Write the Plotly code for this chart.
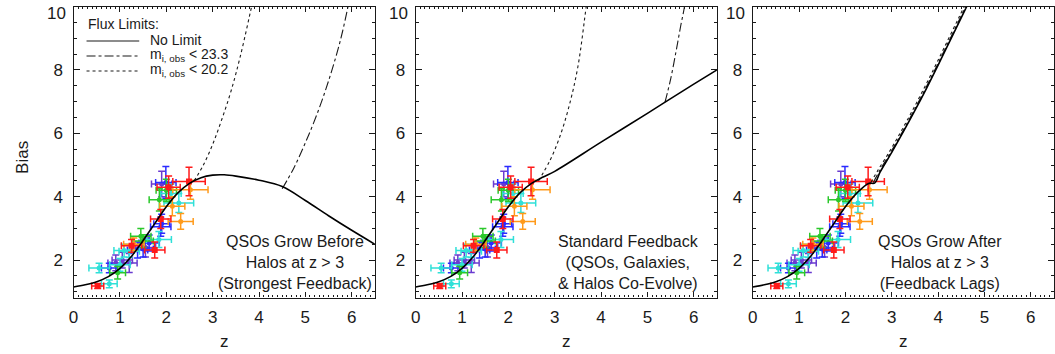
import plotly.graph_objects as go

W, H = 1055, 354

# ---------------- curves ----------------
z_base = [0.0, 0.25, 0.5, 0.75, 1.0, 1.25, 1.5, 1.75, 2.0, 2.25, 2.5]
b_base = [1.15, 1.22, 1.32, 1.48, 1.74, 2.12, 2.62, 3.15, 3.68, 4.12, 4.42]

# panel 1: QSOs grow before halos
z1_tail = [2.75, 3.0, 3.25, 3.5, 4.0, 4.5, 5.0, 5.5, 6.0, 6.5]
b1_tail = [4.6, 4.68, 4.69, 4.65, 4.52, 4.32, 3.88, 3.4, 2.94, 2.5]
z1_dot = [2.6, 2.8, 3.0, 3.2, 3.4, 3.6, 3.84, 3.9]
b1_dot = [4.5, 5.0, 5.65, 6.45, 7.35, 8.45, 10.0, 10.4]
z1_dd = [4.5, 4.75, 5.0, 5.25, 5.5, 5.75, 5.92, 5.97]
b1_dd = [4.25, 4.9, 5.7, 6.6, 7.65, 8.9, 10.0, 10.4]

# panel 2: standard feedback
z2_tail = [2.75, 3.0, 4.0, 5.0, 6.0, 6.5]
b2_tail = [4.62, 4.8, 5.72, 6.63, 7.55, 8.0]
z2_dot = [2.65, 2.9, 3.1, 3.3, 3.5, 3.68, 3.72]
b2_dot = [4.5, 5.15, 5.85, 6.8, 8.1, 10.0, 10.4]
z2_dd = [5.38, 5.5, 5.62, 5.72, 5.8, 5.83]
b2_dd = [6.98, 7.7, 8.6, 9.4, 10.0, 10.4]

# panel 3: QSOs grow after halos
z3_tail = [2.63, 2.75, 3.0, 3.25, 3.5, 3.75, 4.0, 4.25, 4.5, 4.7]
b3_tail = [4.43, 4.78, 5.4, 6.05, 6.72, 7.42, 8.15, 8.9, 9.65, 10.25]
z3_dot = [2.55, 2.7, 2.95, 3.2, 3.45, 3.7, 3.95, 4.2, 4.45, 4.65]
b3_dot = [4.45, 4.83, 5.42, 6.06, 6.73, 7.43, 8.16, 8.91, 9.66, 10.26]
z3_dd = [2.6, 2.73, 2.98, 3.23, 3.48, 3.73, 3.98, 4.23, 4.48, 4.68]
b3_dd = [4.44, 4.8, 5.41, 6.05, 6.72, 7.42, 8.15, 8.9, 9.65, 10.25]

# ---------------- observed clustering points ----------------
red_z = [0.52, 1.25, 1.75, 1.88, 2.49, 2.05]
red_b = [1.18, 2.45, 2.32, 3.3, 4.48, 4.3]
red_ez = [0.13, 0.22, 0.22, 0.22, 0.35, 0.25]
red_eb = [0.08, 0.2, 0.25, 0.3, 0.45, 0.35]

orange_z = [2.52, 2.31, 2.13, 1.3]
orange_b = [4.22, 3.22, 3.7, 2.5]
orange_ez = [0.38, 0.27, 0.27, 0.22]
orange_eb = [0.3, 0.25, 0.3, 0.2]

green_z = [0.95, 1.45, 1.85, 1.5, 2.0]
green_b = [1.6, 2.75, 3.9, 2.6, 4.2]
green_ez = [0.17, 0.22, 0.22, 0.22, 0.22]
green_eb = [0.2, 0.25, 0.35, 0.2, 0.35]

cyan_z = [0.77, 0.55, 1.09, 1.2, 1.84, 2.27, 1.0, 2.1]
cyan_b = [1.25, 1.75, 2.3, 2.28, 2.65, 3.8, 1.85, 4.1]
cyan_ez = [0.17, 0.22, 0.22, 0.22, 0.27, 0.32, 0.22, 0.22]
cyan_eb = [0.12, 0.15, 0.2, 0.2, 0.25, 0.3, 0.2, 0.3]

blue_z = [0.77, 1.38, 1.63, 1.88, 1.99, 1.9, 1.5]
blue_b = [1.75, 2.32, 2.54, 3.05, 4.45, 3.15, 2.35]
blue_ez = [0.17, 0.22, 0.22, 0.22, 0.22, 0.17, 0.22]
blue_eb = [0.15, 0.25, 0.25, 0.3, 0.5, 0.3, 0.25]

purple_z = [0.91, 1.2, 1.9, 1.55, 1.05]
purple_b = [1.91, 1.91, 4.4, 2.4, 2.0]
purple_ez = [0.17, 0.17, 0.22, 0.22, 0.22]
purple_eb = [0.25, 0.3, 0.4, 0.3, 0.25]

groups = [
    ("#6a3bd0", purple_z, purple_b, purple_ez, purple_eb, "circle"),
    ("#2b2bff", blue_z, blue_b, blue_ez, blue_eb, "circle"),
    ("#2fe0d8", cyan_z, cyan_b, cyan_ez, cyan_eb, "circle"),
    ("#2bc82b", green_z, green_b, green_ez, green_eb, "circle"),
    ("#ff9a1a", orange_z, orange_b, orange_ez, orange_eb, "circle"),
    ("#ff1a1a", red_z, red_b, red_ez, red_eb, "square"),
]

panel_text = [
    "QSOs Grow Before<br>Halos at z > 3<br>(Strongest Feedback)",
    "Standard Feedback<br>(QSOs, Galaxies,<br>& Halos Co-Evolve)",
    "QSOs Grow After<br>Halos at z > 3<br>(Feedback Lags)",
]

# ---------------- layout geometry (pixels) ----------------
panels_px = [(69, 372), (413, 716), (752, 1055)]
y_top_px, y_bot_px = 6.5, 297.5
text_cx = [292, 627, 940]

FONT = "Liberation Sans, Arial, Helvetica, sans-serif"
INK = "#1a1a1a"

fig = go.Figure()

solid = [
    (z_base + z1_tail, b_base + b1_tail),
    (z_base + z2_tail, b_base + b2_tail),
    (z_base + z3_tail, b_base + b3_tail),
]
dots = [(z1_dot, b1_dot), (z2_dot, b2_dot), (z3_dot, b3_dot)]
dds = [(z1_dd, b1_dd), (z2_dd, b2_dd), (z3_dd, b3_dd)]

for i in range(3):
    xa = "x" if i == 0 else f"x{i+1}"
    ya = "y" if i == 0 else f"y{i+1}"
    for col, zz, bb, ez, eb, sym in groups:
        fig.add_trace(go.Scatter(
            x=zz, y=bb, mode="markers", xaxis=xa, yaxis=ya,
            marker=dict(color=col, size=5 if sym == "circle" else 6, symbol=sym),
            error_x=dict(type="data", array=ez, color=col, thickness=1.5, width=3.5),
            error_y=dict(type="data", array=eb, color=col, thickness=1.5, width=3.5),
            showlegend=False, hoverinfo="skip"))
    fig.add_trace(go.Scatter(x=dots[i][0], y=dots[i][1], mode="lines", xaxis=xa, yaxis=ya,
                             line=dict(color=INK, width=1.1, dash="dot", shape="spline"),
                             showlegend=False))
    fig.add_trace(go.Scatter(x=dds[i][0], y=dds[i][1], mode="lines", xaxis=xa, yaxis=ya,
                             line=dict(color=INK, width=1.1, dash="dashdot", shape="spline"),
                             showlegend=False))
    fig.add_trace(go.Scatter(x=solid[i][0], y=solid[i][1], mode="lines", xaxis=xa, yaxis=ya,
                             line=dict(color="black", width=1.6, shape="spline"),
                             showlegend=False))

ydom = [1 - y_bot_px / H, 1 - y_top_px / H]
annotations = []
shapes = []
for i, (x0, x1) in enumerate(panels_px):
    sfx = "" if i == 0 else str(i + 1)
    xaxis = dict(
        domain=[x0 / W, x1 / W], range=[0, 6.5], anchor="y" + sfx,
        tickvals=[0, 1, 2, 3, 4, 5, 6], ticks="inside", ticklen=5, tickwidth=1,
        tickcolor=INK, showline=True, linecolor=INK, linewidth=1.3, mirror="ticks",
        showgrid=False, zeroline=False,
        minor=dict(dtick=0.1, tick0=0, ticks="inside", ticklen=2.5, tickcolor=INK, showgrid=False),
        tickfont=dict(family=FONT, size=17, color=INK), ticklabelstandoff=4,
    )
    yaxis = dict(
        domain=ydom, range=[0.82, 10], anchor="x" + sfx,
        tickvals=[2, 4, 6, 8], ticks="inside", ticklen=6, tickwidth=1,
        tickcolor=INK, showline=True, linecolor=INK, linewidth=1.3, mirror="ticks",
        showgrid=False, zeroline=False,
        minor=dict(dtick=0.5, tick0=0, ticks="inside", ticklen=3, tickcolor=INK, showgrid=False),
        tickfont=dict(family=FONT, size=17, color=INK), ticklabelstandoff=6,
    )
    fig.layout["xaxis" + sfx] = xaxis
    fig.layout["yaxis" + sfx] = yaxis
    # top "10" label (drawn lower than its tick, as in the original)
    annotations.append(dict(text="10", x=(x0 - 6) / W, y=1 - 13 / H, xref="paper", yref="paper",
                            xanchor="right", yanchor="middle", showarrow=False,
                            font=dict(family=FONT, size=17, color=INK)))
    annotations.append(dict(text="z", x=(x0 + x1) / 2 / W, y=1 - 341 / H, xref="paper", yref="paper",
                            xanchor="center", yanchor="middle", showarrow=False,
                            font=dict(family=FONT, size=17, color=INK)))
    annotations.append(dict(text=panel_text[i], x=text_cx[i] / W, y=1 - 262 / H,
                            xref="paper", yref="paper", xanchor="center", yanchor="middle",
                            align="center", showarrow=False,
                            font=dict(family=FONT, size=16, color=INK)))

annotations.append(dict(text="Bias", x=17 / W, y=1 - 157 / H, xref="paper", yref="paper",
                        textangle=-90, xanchor="center", yanchor="middle", showarrow=False,
                        font=dict(family=FONT, size=17, color=INK)))

# legend block in panel 1
leg_font = dict(family=FONT, size=14, color=INK)
annotations.append(dict(text="Flux Limits:", x=81 / W, y=1 - 24 / H, xref="paper", yref="paper",
                        xanchor="left", yanchor="middle", showarrow=False, font=leg_font))
leg_rows = [("No Limit", "solid", 40), ("m<sub>i, obs</sub> < 23.3", "dashdot", 55),
            ("m<sub>i, obs</sub> < 20.2", "dot", 70)]
for txt, dash, yy in leg_rows:
    shapes.append(dict(type="line", xref="paper", yref="paper", x0=82 / W, x1=135 / W,
                       y0=1 - (yy + 1) / H, y1=1 - (yy + 1) / H,
                       line=dict(color=INK, width=1.2, dash=dash)))
    annotations.append(dict(text=txt, x=144 / W, y=1 - yy / H, xref="paper", yref="paper",
                            xanchor="left", yanchor="middle", showarrow=False, font=leg_font))

fig.update_layout(
    width=W, height=H, margin=dict(l=0, r=0, t=0, b=0),
    paper_bgcolor="white", plot_bgcolor="white",
    annotations=annotations, shapes=shapes, showlegend=False,
)

fig.write_html("out.html")
